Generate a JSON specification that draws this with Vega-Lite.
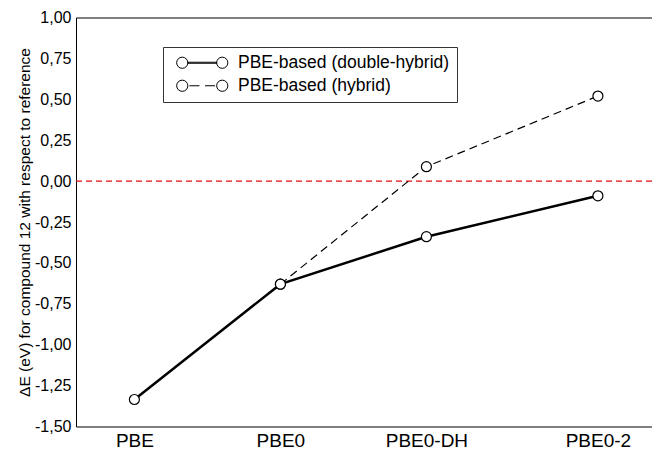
{
  "$schema": "https://vega.github.io/schema/vega-lite/v6.json",
  "width": 576,
  "height": 409,
  "autosize": {"type": "none"},
  "padding": {"left": 76, "top": 17.5, "right": 0, "bottom": 22.5},
  "background": "white",
  "config": {"view": {"stroke": null}, "font": "Liberation Sans"},
  "data": {
    "values": [
      {"series": "PBE-based (double-hybrid)", "method": "PBE", "exx": 0, "dE": -1.335},
      {"series": "PBE-based (double-hybrid)", "method": "PBE0", "exx": 0.25, "dE": -0.63},
      {"series": "PBE-based (double-hybrid)", "method": "PBE0-DH", "exx": 0.5, "dE": -0.34},
      {"series": "PBE-based (double-hybrid)", "method": "PBE0-2", "exx": 0.7937, "dE": -0.09},
      {"series": "PBE-based (hybrid)", "method": "PBE0", "exx": 0.25, "dE": -0.63},
      {"series": "PBE-based (hybrid)", "method": "PBE0-DH", "exx": 0.5, "dE": 0.088},
      {"series": "PBE-based (hybrid)", "method": "PBE0-2", "exx": 0.7937, "dE": 0.52}
    ]
  },
  "layer": [
    {
      "data": {"values": [{"ref": 0}]},
      "mark": {"type": "rule", "color": "#e01010", "strokeDash": [6, 4], "strokeWidth": 1.2},
      "encoding": {
        "y": {"field": "ref", "type": "quantitative", "scale": {"domain": [-1.5, 1], "nice": false, "zero": false}, "axis": null}
      }
    },
    {
      "transform": [{"filter": "datum.series === 'PBE-based (hybrid)'"}],
      "mark": {"type": "line", "strokeDash": [8, 5], "strokeWidth": 1.2},
      "encoding": {
        "x": {"field": "exx", "type": "quantitative", "scale": {"domain": [-0.1, 0.8863], "nice": false, "zero": false}, "axis": null},
        "y": {"field": "dE", "type": "quantitative", "scale": {"domain": [-1.5, 1], "nice": false, "zero": false}, "axis": null},
        "color": {
          "field": "series", "type": "nominal",
          "scale": {"domain": ["PBE-based (double-hybrid)", "PBE-based (hybrid)"], "range": ["black", "black"]}
        },
        "order": {"field": "exx"}
      }
    },
    {
      "transform": [{"filter": "datum.series === 'PBE-based (double-hybrid)'"}],
      "mark": {"type": "line", "strokeWidth": 2.5},
      "encoding": {
        "x": {
          "field": "exx", "type": "quantitative",
          "scale": {"domain": [-0.1, 0.8863], "nice": false, "zero": false},
          "axis": {
            "orient": "bottom",
            "values": [0, 0.25, 0.5, 0.7937],
            "labelExpr": "datum.value == 0 ? 'PBE' : datum.value == 0.25 ? 'PBE0' : datum.value == 0.5 ? 'PBE0-DH' : 'PBE0-2'",
            "title": null, "grid": false,
            "domainColor": "black", "domainWidth": 1,
            "tickColor": "black", "tickWidth": 1, "tickSize": 0,
            "labelPadding": 5, "labelFontSize": 19, "labelColor": "black", "labelFont": "Liberation Sans",
            "labelFlush": false, "labelOverlap": false,
            "encode": {"ticks": {"update": {"y2": {"value": -11}}}}
          }
        },
        "y": {
          "field": "dE", "type": "quantitative",
          "scale": {"domain": [-1.5, 1], "nice": false, "zero": false},
          "axis": {
            "orient": "left",
            "values": [-1.5, -1.375, -1.25, -1.125, -1, -0.875, -0.75, -0.625, -0.5, -0.375, -0.25, -0.125, 0, 0.125, 0.25, 0.375, 0.5, 0.625, 0.75, 0.875, 1],
            "labelExpr": "abs(datum.value*4 - round(datum.value*4)) < 0.001 ? replace(replace(format(datum.value, '.2f'), '.', ','), '\u2212', '-') : ''",
            "title": "ΔE (eV) for compound 12 with respect to reference",
            "titleFontSize": 15.5, "titleFontWeight": "normal", "titleColor": "black", "titleFont": "Liberation Sans", "titlePadding": 2,
            "grid": false,
            "domainColor": "black", "domainWidth": 1,
            "tickColor": "black", "tickWidth": 1, "tickSize": 0,
            "labelPadding": 5, "labelFontSize": 16, "labelColor": "black", "labelFont": "Liberation Sans",
            "labelFlush": false, "labelOverlap": false,
            "encode": {"ticks": {"update": {"x2": [{"test": "abs(datum.value*4 - round(datum.value*4)) < 0.001", "value": 12}, {"value": 6}]}}}
          }
        },
        "color": {
          "field": "series", "type": "nominal",
          "scale": {"domain": ["PBE-based (double-hybrid)", "PBE-based (hybrid)"], "range": ["black", "black"]},
          "legend": {
            "orient": "none", "legendX": 87, "legendY": 29.5,
            "title": null,
            "strokeColor": "#333333", "fillColor": "white", "padding": 7,
            "labelFontSize": 17.5, "labelFont": "Liberation Sans", "labelColor": "black", "labelLimit": 0,
            "labelOffset": 27, "rowPadding": 4,
            "symbolSize": 256, "symbolOffset": 23.5, "symbolStrokeWidth": 1,
            "symbolFillColor": "white", "symbolStrokeColor": "black",
            "encode": {
              "symbols": {
                "update": {
                  "shape": [
                    {"test": "datum.value === 'PBE-based (hybrid)'", "value": "M-3.2,0A0.7,0.7,0,1,0,-1.8,0A0.7,0.7,0,1,0,-3.2,0ZM1.8,0A0.7,0.7,0,1,0,3.2,0A0.7,0.7,0,1,0,1.8,0ZM-1.6,0L-0.35,0M0.35,0L1.6,0"},
                    {"value": "M-3.2,0A0.7,0.7,0,1,0,-1.8,0A0.7,0.7,0,1,0,-3.2,0ZM1.8,0A0.7,0.7,0,1,0,3.2,0A0.7,0.7,0,1,0,1.8,0ZM-1.8,-0.0625L1.8,-0.0625L1.8,0.0625L-1.8,0.0625Z"}
                  ],
                  "fill": {"value": "white"},
                  "fillOpacity": {"value": 1},
                  "stroke": {"value": "black"},
                  "strokeWidth": {"value": 1},
                  "opacity": {"value": 1}
                }
              }
            }
          }
        },
        "order": {"field": "exx"}
      }
    },
    {
      "mark": {"type": "point", "shape": "circle", "filled": true, "fill": "white", "fillOpacity": 1, "stroke": "black", "strokeWidth": 1.2, "size": 100, "opacity": 1},
      "encoding": {
        "x": {
          "field": "exx", "type": "quantitative",
          "scale": {"domain": [-0.1, 0.8863], "nice": false, "zero": false},
          "axis": {"orient": "top", "ticks": false, "labels": false, "title": null, "grid": false, "domainColor": "black", "domainWidth": 1}
        },
        "y": {
          "field": "dE", "type": "quantitative",
          "scale": {"domain": [-1.5, 1], "nice": false, "zero": false},
          "axis": {
            "orient": "right", "offset": 8, "domain": false, "labels": false, "title": null, "grid": false,
            "values": [-1.5, -1.375, -1.25, -1.125, -1, -0.875, -0.75, -0.625, -0.5, -0.375, -0.25, -0.125, 0, 0.125, 0.25, 0.375, 0.5, 0.625, 0.75, 0.875, 1],
            "tickColor": "black", "tickWidth": 1, "tickSize": 0,
            "encode": {"ticks": {"update": {"x2": [{"test": "abs(datum.value*4 - round(datum.value*4)) < 0.001", "value": -12}, {"value": -6}]}}}
          }
        }
      }
    }
  ],
  "resolve": {"axis": {"x": "independent", "y": "independent"}}
}
